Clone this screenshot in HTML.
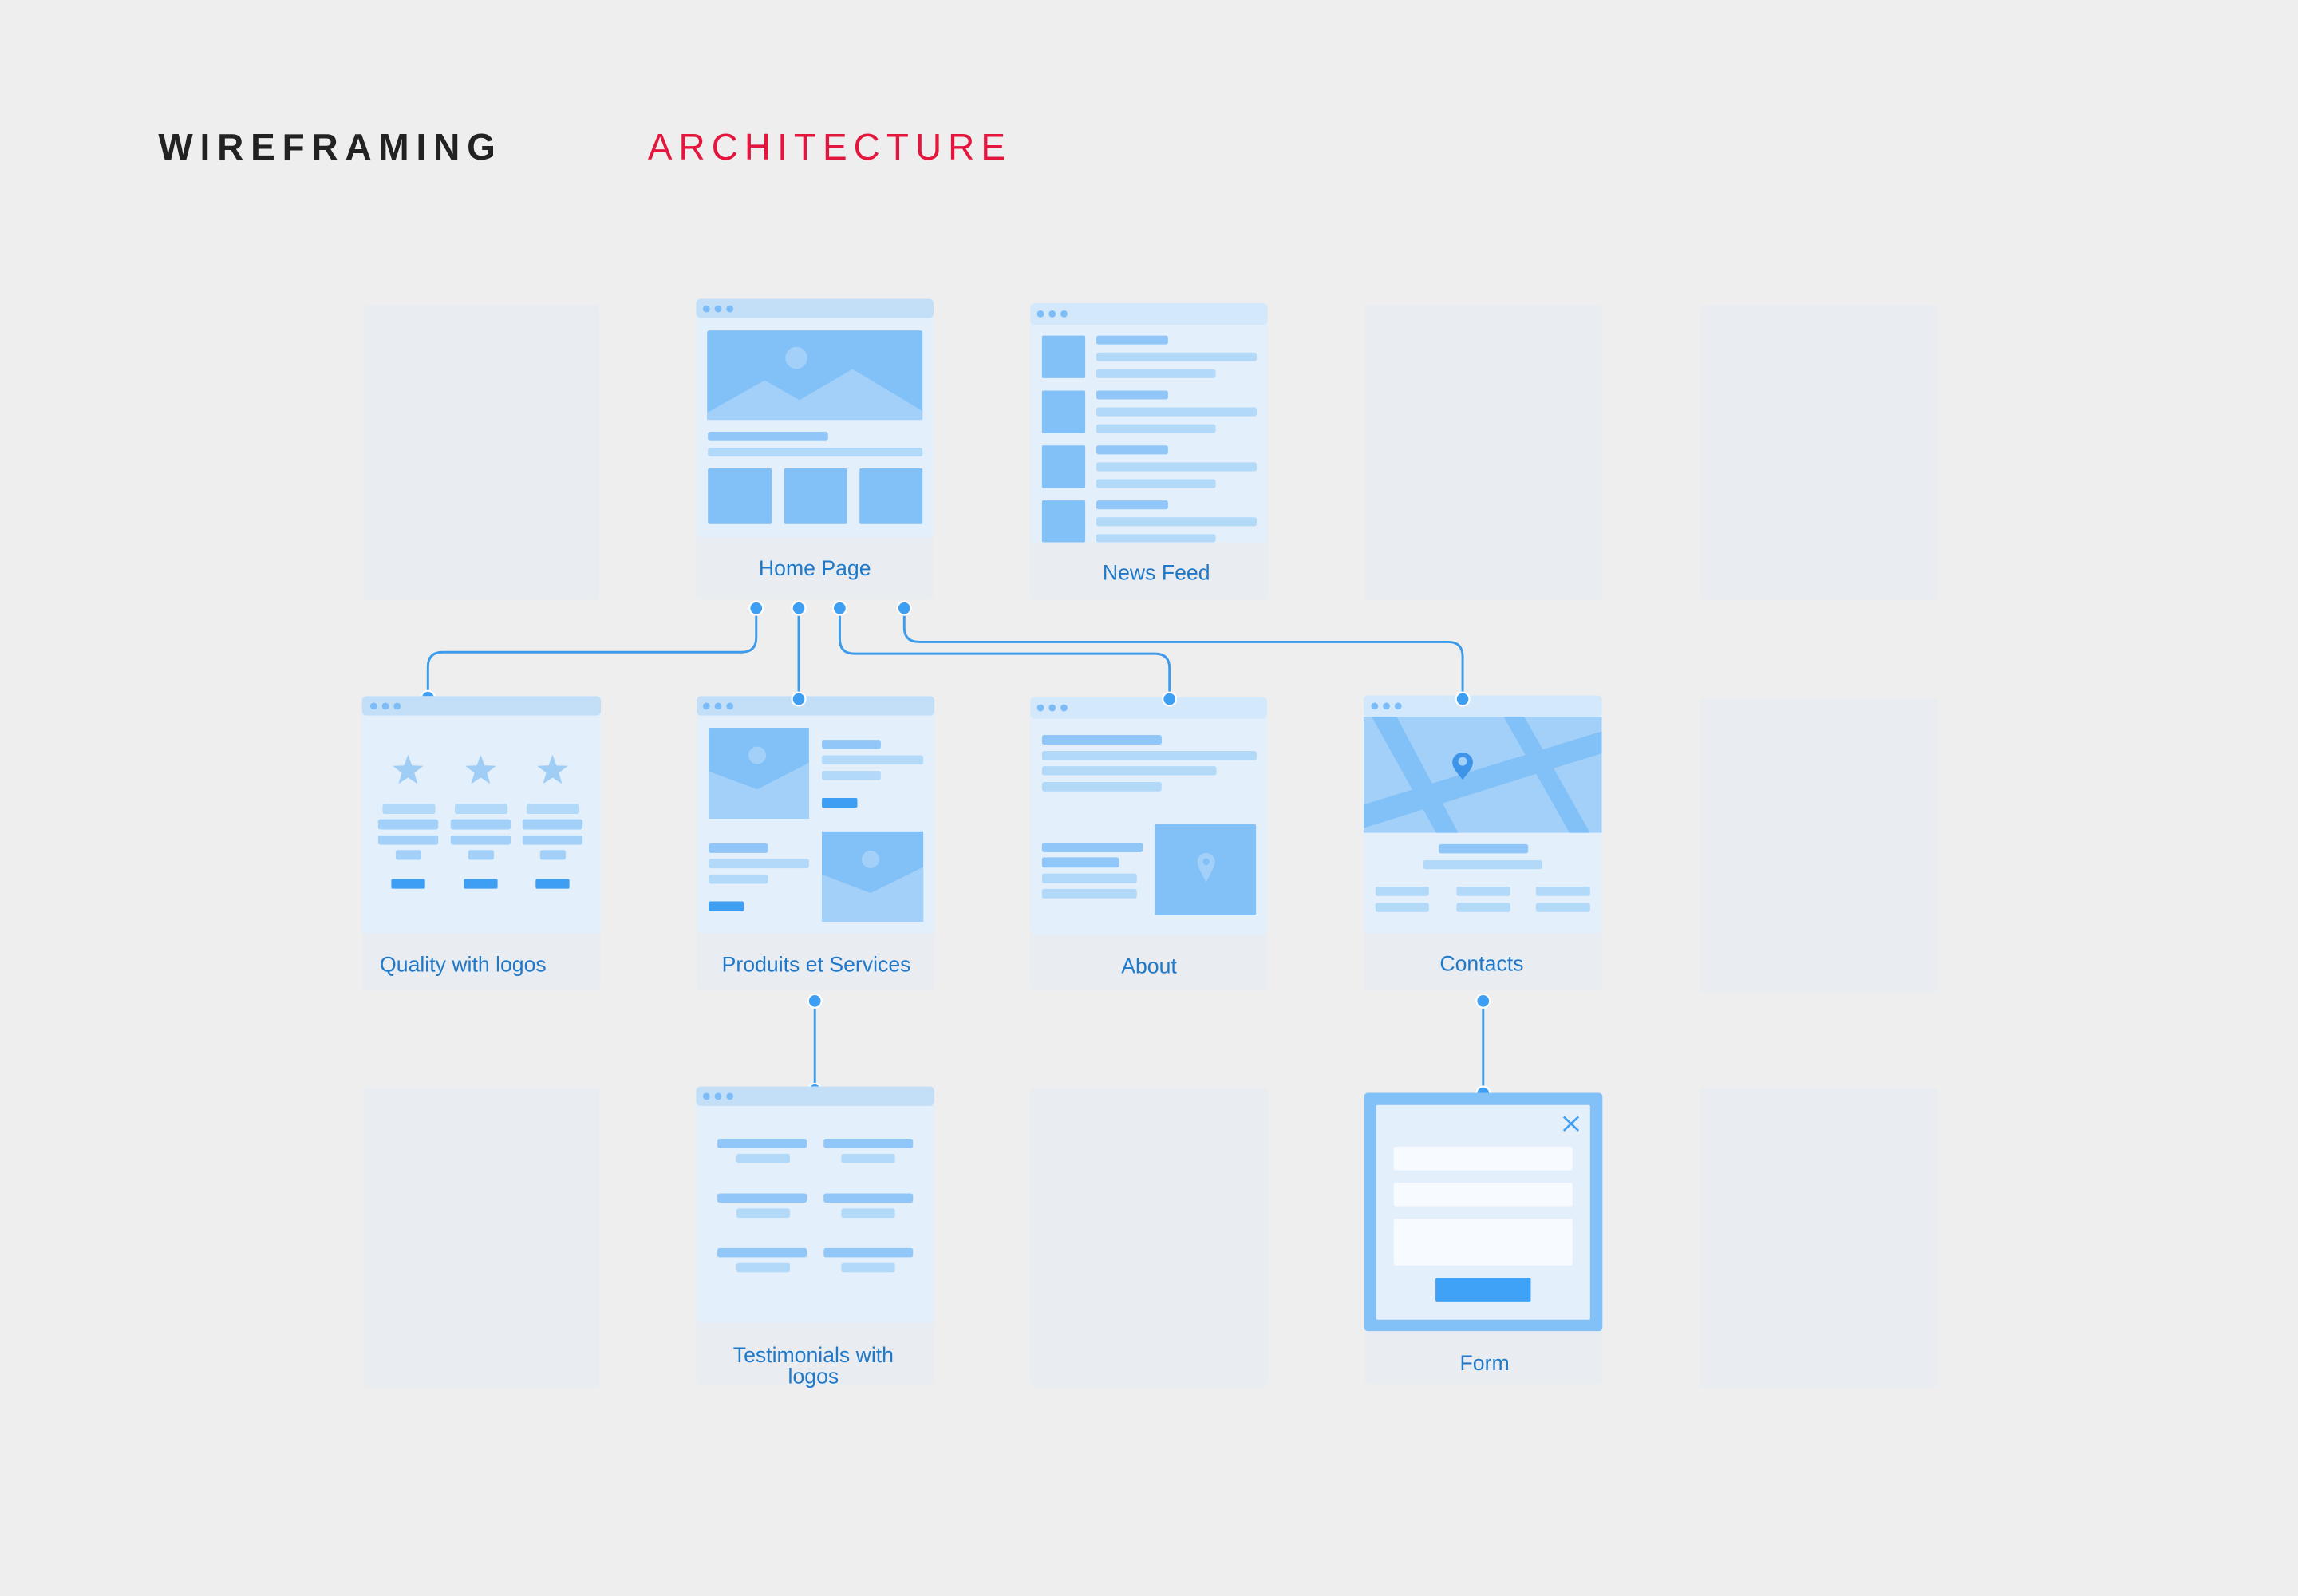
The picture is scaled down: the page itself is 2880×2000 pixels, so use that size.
<!DOCTYPE html>
<html><head><meta charset="utf-8"><style>
html,body{margin:0;padding:0;background:#eeeeee;}
svg{display:block;}
text{font-family:"Liberation Sans",Arial,sans-serif;}
</style></head><body>
<svg width="2880" height="2000" viewBox="0 0 1568 1089" preserveAspectRatio="none" xmlns="http://www.w3.org/2000/svg">
<defs>
<clipPath id="mapclip"><rect x="930.5" y="489" width="162.5" height="79.3"/></clipPath>
<symbol id="star" viewBox="-12 -12 24 24"><polygon points="0,-12 2.9,-4 11.4,-3.7 4.7,1.5 7.1,9.7 0,5 -7.1,9.7 -4.7,1.5 -11.4,-3.7 -2.9,-4" fill="#9fcdf5"/></symbol>
</defs>
<rect width="1568" height="1089" fill="#eeeeee"/>

<text x="108" y="109" font-size="25" font-weight="bold" fill="#222" textLength="230" lengthAdjust="spacing">WIREFRAMING</text>
<text x="442" y="109" font-size="25" fill="#e3173e" textLength="244" lengthAdjust="spacing">ARCHITECTURE</text>

<!-- placeholders -->
<g fill="#e9edf1">
<rect x="248" y="208" width="161" height="202" rx="3"/>
<rect x="931" y="208" width="162" height="202" rx="3"/>
<rect x="1160" y="208" width="162" height="202" rx="3"/>
<rect x="1160" y="476" width="162" height="201" rx="3"/>
<rect x="248" y="742" width="161" height="205" rx="3"/>
<rect x="703" y="742" width="162" height="205" rx="3"/>
<rect x="1160" y="742" width="162" height="205" rx="3"/>
</g>

<!-- connectors -->
<g fill="none" stroke="#3d9bec" stroke-width="1.6">
<path d="M516,415 V435 Q516,445 506,445 H302 Q292,445 292,455 V477"/>
<path d="M545,415 V477"/>
<path d="M573,415 V436 Q573,446 583,446 H788 Q798,446 798,456 V477"/>
<path d="M617,415 V428 Q617,438 627,438 H988 Q998,438 998,448 V477"/>
<path d="M556,683 V745"/>
<path d="M1012,683 V748"/>
</g>
<g fill="#3d9ef2" stroke="#fff" stroke-width="1.2">
<circle cx="292" cy="476" r="4.6"/>
<circle cx="556" cy="744" r="4.6"/>
<circle cx="1012" cy="746" r="4.6"/>
</g>

<!-- Home Page -->
<rect x="475" y="204" width="162" height="205" rx="3" fill="#e9edf1"/>
<rect x="475" y="204" width="162" height="163" rx="3" fill="#e3effb"/>
<rect x="475" y="204" width="162" height="13" rx="3" fill="#c3dff8"/>
<g fill="#7dbdf7"><circle cx="482" cy="210.8" r="2.4"/><circle cx="490" cy="210.8" r="2.4"/><circle cx="498" cy="210.8" r="2.4"/></g>
<rect x="482.5" y="225.5" width="147" height="61" rx="1.5" fill="#82c0f8"/>
<polygon points="482.5,281.6 521.8,259.5 545.5,273 581.7,251.8 629.5,280.5 629.5,286.5 482.5,286.5" fill="#a2d0f8"/>
<circle cx="543.4" cy="244.2" r="7.5" fill="#a2d0f8"/>
<rect x="483" y="294.6" width="82" height="6.4" rx="1.5" fill="#91c7f8"/>
<rect x="483" y="305.5" width="146.5" height="6" rx="1.5" fill="#b3d9f9"/>
<g fill="#82c0f8">
<rect x="483" y="319.6" width="43.5" height="38" rx="1"/>
<rect x="535" y="319.6" width="43" height="38" rx="1"/>
<rect x="586.5" y="319.6" width="43" height="38" rx="1"/>
</g>
<text x="556" y="392.5" font-size="14.5" fill="#1f78c8" text-anchor="middle">Home Page</text>

<!-- News Feed -->
<rect x="703" y="207" width="162" height="203" rx="3" fill="#e9edf1"/>
<rect x="703" y="207" width="162" height="163" rx="3" fill="#e3effb"/>
<rect x="703" y="207" width="162" height="14.6" rx="3" fill="#d3e8fa"/>
<g fill="#7dbdf7"><circle cx="710" cy="214.2" r="2.4"/><circle cx="718" cy="214.2" r="2.4"/><circle cx="726" cy="214.2" r="2.4"/></g>
<g>
<rect x="711" y="229" width="29.5" height="29" rx="1" fill="#82c0f8"/>
<rect x="748" y="229" width="49" height="6" rx="1.5" fill="#91c7f8"/>
<rect x="748" y="240.5" width="109.5" height="6" rx="1.5" fill="#b3d9f9"/>
<rect x="748" y="252" width="81.5" height="6" rx="1.5" fill="#b3d9f9"/>
<rect x="711" y="266.5" width="29.5" height="29" rx="1" fill="#82c0f8"/>
<rect x="748" y="266.5" width="49" height="6" rx="1.5" fill="#91c7f8"/>
<rect x="748" y="278" width="109.5" height="6" rx="1.5" fill="#b3d9f9"/>
<rect x="748" y="289.5" width="81.5" height="6" rx="1.5" fill="#b3d9f9"/>
<rect x="711" y="304" width="29.5" height="29" rx="1" fill="#82c0f8"/>
<rect x="748" y="304" width="49" height="6" rx="1.5" fill="#91c7f8"/>
<rect x="748" y="315.5" width="109.5" height="6" rx="1.5" fill="#b3d9f9"/>
<rect x="748" y="327" width="81.5" height="6" rx="1.5" fill="#b3d9f9"/>
<rect x="711" y="341.5" width="29.5" height="28.5" rx="1" fill="#82c0f8"/>
<rect x="748" y="341.5" width="49" height="6" rx="1.5" fill="#91c7f8"/>
<rect x="748" y="353" width="109.5" height="6" rx="1.5" fill="#b3d9f9"/>
<rect x="748" y="364.5" width="81.5" height="5.5" rx="1.5" fill="#b3d9f9"/>
</g>
<text x="789" y="395.5" font-size="14.5" fill="#1f78c8" text-anchor="middle">News Feed</text>

<!-- Quality with logos -->
<rect x="247" y="475" width="163" height="201" rx="3" fill="#e9edf1"/>
<rect x="247" y="475" width="163" height="162" rx="3" fill="#e3effb"/>
<rect x="247" y="475" width="163" height="13.2" rx="3" fill="#c3dff8"/>
<g fill="#7dbdf7"><circle cx="255" cy="481.8" r="2.4"/><circle cx="263" cy="481.8" r="2.4"/><circle cx="271" cy="481.8" r="2.4"/></g>
<use href="#star" x="267.4" y="515" width="22" height="22"/>
<use href="#star" x="317" y="515" width="22" height="22"/>
<use href="#star" x="366" y="515" width="22" height="22"/>
<g>
<rect x="261" y="548.6" width="36" height="6.8" rx="1.5" fill="#b3d9f9"/>
<rect x="310.3" y="548.6" width="36" height="6.8" rx="1.5" fill="#b3d9f9"/>
<rect x="359.3" y="548.6" width="36" height="6.8" rx="1.5" fill="#b3d9f9"/>
<rect x="258" y="559" width="41" height="7" rx="1.5" fill="#a2d0f8"/>
<rect x="307.5" y="559" width="41" height="7" rx="1.5" fill="#a2d0f8"/>
<rect x="356.5" y="559" width="41" height="7" rx="1.5" fill="#a2d0f8"/>
<rect x="258" y="570" width="41" height="6.4" rx="1.5" fill="#a2d0f8"/>
<rect x="307.5" y="570" width="41" height="6.4" rx="1.5" fill="#a2d0f8"/>
<rect x="356.5" y="570" width="41" height="6.4" rx="1.5" fill="#a2d0f8"/>
<rect x="270" y="580" width="17.5" height="6.7" rx="1.5" fill="#a2d0f8"/>
<rect x="319.5" y="580" width="17.5" height="6.7" rx="1.5" fill="#a2d0f8"/>
<rect x="368.5" y="580" width="17.5" height="6.7" rx="1.5" fill="#a2d0f8"/>
<rect x="267" y="599.8" width="23" height="6.6" rx="1" fill="#3d9ef2"/>
<rect x="316.5" y="599.8" width="23" height="6.6" rx="1" fill="#3d9ef2"/>
<rect x="365.5" y="599.8" width="23" height="6.6" rx="1" fill="#3d9ef2"/>
</g>
<text x="316" y="663" font-size="14.5" fill="#1f78c8" text-anchor="middle">Quality with logos</text>

<!-- Produits et Services -->
<rect x="475.4" y="475" width="162.2" height="201" rx="3" fill="#e9edf1"/>
<rect x="475.4" y="475" width="162.2" height="162" rx="3" fill="#e3effb"/>
<rect x="475.4" y="475" width="162.2" height="13.2" rx="3" fill="#c3dff8"/>
<g fill="#7dbdf7"><circle cx="482" cy="481.8" r="2.4"/><circle cx="490" cy="481.8" r="2.4"/><circle cx="498" cy="481.8" r="2.4"/></g>
<rect x="483.5" y="496.6" width="68.5" height="62" fill="#82c0f8"/>
<polygon points="483.5,526.3 516.7,538.6 552,520.5 552,558.6 483.5,558.6" fill="#a2d0f8"/>
<ellipse cx="516.7" cy="515.4" rx="6" ry="6" fill="#a2d0f8"/>
<rect x="560.8" y="504.8" width="40.2" height="6.2" rx="1.5" fill="#91c7f8"/>
<rect x="560.8" y="515.4" width="69.2" height="6.2" rx="1.5" fill="#b3d9f9"/>
<rect x="560.8" y="526" width="40.2" height="6.3" rx="1.5" fill="#b3d9f9"/>
<rect x="560.8" y="544.5" width="24.2" height="6.5" rx="1" fill="#3d9ef2"/>
<rect x="483.5" y="575.5" width="40.5" height="6.5" rx="1.5" fill="#91c7f8"/>
<rect x="483.5" y="586" width="68.5" height="6.5" rx="1.5" fill="#b3d9f9"/>
<rect x="483.5" y="596.7" width="40.5" height="6.3" rx="1.5" fill="#b3d9f9"/>
<rect x="483.5" y="615" width="24" height="6.8" rx="1" fill="#3d9ef2"/>
<rect x="560.8" y="567.3" width="69.2" height="61.7" fill="#82c0f8"/>
<polygon points="560.8,596.7 594,609.3 630,591.6 630,629 560.8,629" fill="#a2d0f8"/>
<circle cx="594" cy="586.4" r="6" fill="#a2d0f8"/>
<text x="557" y="663" font-size="14.5" fill="#1f78c8" text-anchor="middle">Produits et Services</text>

<!-- About -->
<rect x="703" y="475.7" width="161.6" height="200.3" rx="3" fill="#e9edf1"/>
<rect x="703" y="475.7" width="161.6" height="162.3" rx="3" fill="#e3effb"/>
<rect x="703" y="475.7" width="161.6" height="14.7" rx="3" fill="#d3e8fa"/>
<g fill="#7dbdf7"><circle cx="710" cy="483" r="2.4"/><circle cx="718" cy="483" r="2.4"/><circle cx="726" cy="483" r="2.4"/></g>
<rect x="711" y="501.5" width="81.7" height="6.5" rx="1.5" fill="#91c7f8"/>
<rect x="711" y="512.4" width="146.4" height="6.3" rx="1.5" fill="#b3d9f9"/>
<rect x="711" y="522.8" width="119" height="6.2" rx="1.5" fill="#b3d9f9"/>
<rect x="711" y="533.6" width="81.6" height="6.4" rx="1.5" fill="#b3d9f9"/>
<rect x="711" y="575" width="68.7" height="6.5" rx="1.5" fill="#91c7f8"/>
<rect x="711" y="585" width="52.6" height="7" rx="1.5" fill="#91c7f8"/>
<rect x="711" y="596" width="64.7" height="6.7" rx="1.5" fill="#b3d9f9"/>
<rect x="711" y="606.5" width="64.7" height="6.5" rx="1.5" fill="#b3d9f9"/>
<rect x="788" y="562.4" width="69" height="62.1" rx="1" fill="#82c0f8"/>
<path d="M823,602 C819,594 817,591 817,588 A6,6 0 0 1 829,588 C829,591 827,594 823,602 Z" fill="#a2d0f8"/>
<circle cx="823" cy="588" r="2.3" fill="#82c0f8"/>
<text x="784" y="664" font-size="14.5" fill="#1f78c8" text-anchor="middle">About</text>

<!-- Contacts -->
<rect x="930.5" y="474.5" width="162.5" height="201.5" rx="3" fill="#e9edf1"/>
<rect x="930.5" y="474.5" width="162.5" height="162.5" rx="3" fill="#e3effb"/>
<rect x="930.5" y="474.5" width="162.5" height="14.5" rx="3" fill="#d3e8fa"/>
<g fill="#7dbdf7"><circle cx="938" cy="481.8" r="2.4"/><circle cx="946" cy="481.8" r="2.4"/><circle cx="954" cy="481.8" r="2.4"/></g>
<g clip-path="url(#mapclip)">
<rect x="930.5" y="489" width="162.5" height="79.3" fill="#a2d0f8"/>
<polygon points="936,489 953,489 995,568.3 980,568.3" fill="#82c0f8"/>
<polygon points="1026,489 1040,489 1085,568.3 1071,568.3" fill="#82c0f8"/>
<polygon points="930.5,549 1093,499 1093,514 930.5,565" fill="#82c0f8"/>
</g>
<path d="M998,532 C994,527 991,524 991,520 A7,6.5 0 0 1 1005,520 C1005,524 1002,527 998,532 Z" fill="#3d94e8"/>
<circle cx="998" cy="519.5" r="3" fill="#a2d0f8"/>
<rect x="981.7" y="576" width="61" height="6.3" rx="1.5" fill="#91c7f8"/>
<rect x="971" y="587" width="81.4" height="6" rx="1.5" fill="#b3d9f9"/>
<g fill="#b3d9f9">
<rect x="938.5" y="605" width="36.5" height="6.4" rx="1.5"/>
<rect x="993.8" y="605" width="36.7" height="6.4" rx="1.5"/>
<rect x="1048" y="605" width="37" height="6.4" rx="1.5"/>
<rect x="938.5" y="616" width="36.5" height="6.3" rx="1.5"/>
<rect x="993.8" y="616" width="36.7" height="6.3" rx="1.5"/>
<rect x="1048" y="616" width="37" height="6.3" rx="1.5"/>
</g>
<text x="1011" y="662.5" font-size="14.5" fill="#1f78c8" text-anchor="middle">Contacts</text>

<!-- Testimonials -->
<rect x="475" y="741.4" width="162.5" height="204" rx="3" fill="#e9edf1"/>
<rect x="475" y="741.4" width="162.5" height="161.4" rx="3" fill="#e3effb"/>
<rect x="475" y="741.4" width="162.5" height="13.2" rx="3" fill="#c3dff8"/>
<g fill="#7dbdf7"><circle cx="482" cy="748.1" r="2.4"/><circle cx="490" cy="748.1" r="2.4"/><circle cx="498" cy="748.1" r="2.4"/></g>
<g>
<rect x="489.5" y="777" width="61" height="6.3" rx="1.5" fill="#91c7f8"/>
<rect x="502.5" y="787.3" width="36.5" height="6.3" rx="1.5" fill="#b3d9f9"/>
<rect x="562" y="777" width="61" height="6.3" rx="1.5" fill="#91c7f8"/>
<rect x="574" y="787.3" width="36.7" height="6.3" rx="1.5" fill="#b3d9f9"/>
<rect x="489.5" y="814.3" width="61" height="6.3" rx="1.5" fill="#91c7f8"/>
<rect x="502.5" y="824.6" width="36.5" height="6.3" rx="1.5" fill="#b3d9f9"/>
<rect x="562" y="814.3" width="61" height="6.3" rx="1.5" fill="#91c7f8"/>
<rect x="574" y="824.6" width="36.7" height="6.3" rx="1.5" fill="#b3d9f9"/>
<rect x="489.5" y="851.5" width="61" height="6.3" rx="1.5" fill="#91c7f8"/>
<rect x="502.5" y="861.8" width="36.5" height="6.3" rx="1.5" fill="#b3d9f9"/>
<rect x="562" y="851.5" width="61" height="6.3" rx="1.5" fill="#91c7f8"/>
<rect x="574" y="861.8" width="36.7" height="6.3" rx="1.5" fill="#b3d9f9"/>
</g>
<text x="555" y="929.5" font-size="14.5" fill="#1f78c8" text-anchor="middle">Testimonials with</text>
<text x="555" y="944" font-size="14.5" fill="#1f78c8" text-anchor="middle">logos</text>

<!-- Form -->
<rect x="930.8" y="745.7" width="162.6" height="199" rx="3" fill="#e9edf1"/>
<rect x="930.8" y="745.7" width="162.6" height="162.6" rx="2.5" fill="#82c0f8"/>
<rect x="939" y="754" width="146" height="146.5" rx="1" fill="#e3effb"/>
<g stroke="#3d9ef2" stroke-width="1.4"><line x1="1067" y1="762" x2="1077" y2="771.5"/><line x1="1077" y1="762" x2="1067" y2="771.5"/></g>
<rect x="951" y="782.4" width="122" height="16.2" rx="1.5" fill="#f7faff"/>
<rect x="951" y="807" width="122" height="16" rx="1.5" fill="#f7faff"/>
<rect x="951" y="831.5" width="122" height="32" rx="1.5" fill="#f7faff"/>
<rect x="979.5" y="872" width="65" height="16" rx="1" fill="#3fa2f6"/>
<text x="1013" y="935" font-size="14.5" fill="#1f78c8" text-anchor="middle">Form</text>

<!-- connector dots top layer -->
<g fill="#3d9ef2" stroke="#fff" stroke-width="1.2">
<circle cx="516" cy="415" r="4.6"/>
<circle cx="545" cy="415" r="4.6"/>
<circle cx="573" cy="415" r="4.6"/>
<circle cx="617" cy="415" r="4.6"/>
<circle cx="545" cy="477" r="4.6"/>
<circle cx="798" cy="477" r="4.6"/>
<circle cx="998" cy="477" r="4.6"/>
<circle cx="556" cy="683" r="4.6"/>
<circle cx="1012" cy="683" r="4.6"/>
</g>
</svg>
</body></html>
